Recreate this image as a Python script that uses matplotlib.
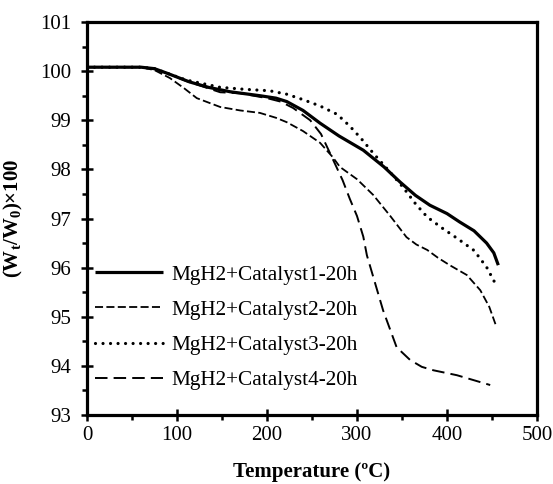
import matplotlib
matplotlib.use("Agg")
import matplotlib.pyplot as plt
from matplotlib.ticker import MultipleLocator

plt.rcParams['font.family'] = ['Liberation Serif', 'DejaVu Serif']
plt.rcParams['mathtext.fontset'] = 'custom'
plt.rcParams['mathtext.rm'] = 'Liberation Serif'
plt.rcParams['mathtext.bf'] = 'Liberation Serif:bold'
plt.rcParams['lines.scale_dashes'] = False

labels = ["MgH2+Catalyst1-20h", "MgH2+Catalyst2-20h",
          "MgH2+Catalyst3-20h", "MgH2+Catalyst4-20h"]

t1 = [0, 60, 75, 90, 114, 135, 159, 192, 210, 222, 240, 259, 280, 307, 330, 348, 365, 381, 400, 414, 430, 444, 452, 457]
v1 = [100.08, 100.08, 100.05, 99.95, 99.78, 99.67, 99.58, 99.50, 99.45, 99.38, 99.20, 98.94, 98.68, 98.39, 98.05, 97.74, 97.47, 97.27, 97.10, 96.93, 96.75, 96.50, 96.30, 96.05]

t2 = [0, 60, 75, 92, 108, 122, 148, 170, 192, 210, 222, 240, 259, 273, 281, 300, 318, 337, 355, 366, 378, 390, 403, 422, 437, 447, 455]
v2 = [100.08, 100.08, 100.02, 99.86, 99.65, 99.45, 99.27, 99.20, 99.15, 99.05, 98.96, 98.78, 98.54, 98.25, 98.05, 97.80, 97.48, 97.05, 96.62, 96.47, 96.36, 96.20, 96.05, 95.85, 95.54, 95.20, 94.79]

t3 = [0, 60, 75, 90, 110, 148, 175, 203, 222, 240, 259, 278, 292, 305, 318, 335, 351, 365, 378, 395, 411, 430, 444, 453]
v3 = [100.08, 100.08, 100.05, 99.95, 99.82, 99.67, 99.63, 99.60, 99.53, 99.42, 99.29, 99.12, 98.88, 98.62, 98.33, 97.98, 97.64, 97.30, 97.03, 96.80, 96.60, 96.35, 96.01, 95.70]

t4 = [0, 60, 75, 90, 110, 148, 170, 200, 215, 229, 248, 260, 270, 284, 292, 300, 307, 311, 329, 344, 359, 372, 385, 411, 448]
v4 = [100.08, 100.08, 100.05, 99.95, 99.80, 99.57, 99.55, 99.45, 99.38, 99.25, 99.00, 98.72, 98.33, 97.78, 97.40, 97.05, 96.63, 96.25, 95.13, 94.38, 94.12, 93.98, 93.91, 93.81, 93.61]

fig = plt.figure(figsize=(5.53, 4.84), dpi=100)
ax = fig.add_axes([87/553, 69/484, 450/553, 393/484])

ax.plot(t1, v1, color='black', lw=2.3, solid_capstyle='butt', label=labels[0])
ax.plot(t2, v2, color='black', lw=1.3, dashes=(5.8, 2.4), label=labels[1])
ax.plot(t3, v3, color='black', lw=2.3, dashes=(0.01, 5.4), dash_capstyle='round', label=labels[2])
ax.plot(t4, v4, color='black', lw=1.4, dashes=(9.0, 4.4), label=labels[3])

ax.set_xlim(0, 500)
ax.set_ylim(93, 101)
ax.xaxis.set_major_locator(MultipleLocator(100))
ax.xaxis.set_minor_locator(MultipleLocator(50))
ax.yaxis.set_major_locator(MultipleLocator(1))
ax.yaxis.set_minor_locator(MultipleLocator(0.5))

for s in ax.spines.values():
    s.set_linewidth(2.3)

ax.tick_params(which='major', direction='inout', length=8.5, width=1.8, labelsize=15)
ax.tick_params(which='minor', direction='out', length=3.5, width=1.8)
ax.tick_params(axis='x', which='major', pad=4)
ax.tick_params(axis='y', which='major', pad=7)

ax.set_xlabel('Temperature (ºC)', fontsize=15, fontweight='bold')
ax.xaxis.set_label_coords(0.5, -0.12)
ax.set_ylabel(r'$\mathbf{(W_{\mathbf{t}}/W_{\mathbf{0}})}$×100', fontsize=15, fontweight='bold')
ax.yaxis.set_label_coords(-0.138, 0.5)

leg = ax.legend(loc='upper left', bbox_to_anchor=(0.018, 0.382), frameon=False,
                fontsize=15.3, handlelength=3.2, handletextpad=0.4,
                labelspacing=0.72, borderpad=0, borderaxespad=0)

fig.savefig('out.png', dpi=100)
